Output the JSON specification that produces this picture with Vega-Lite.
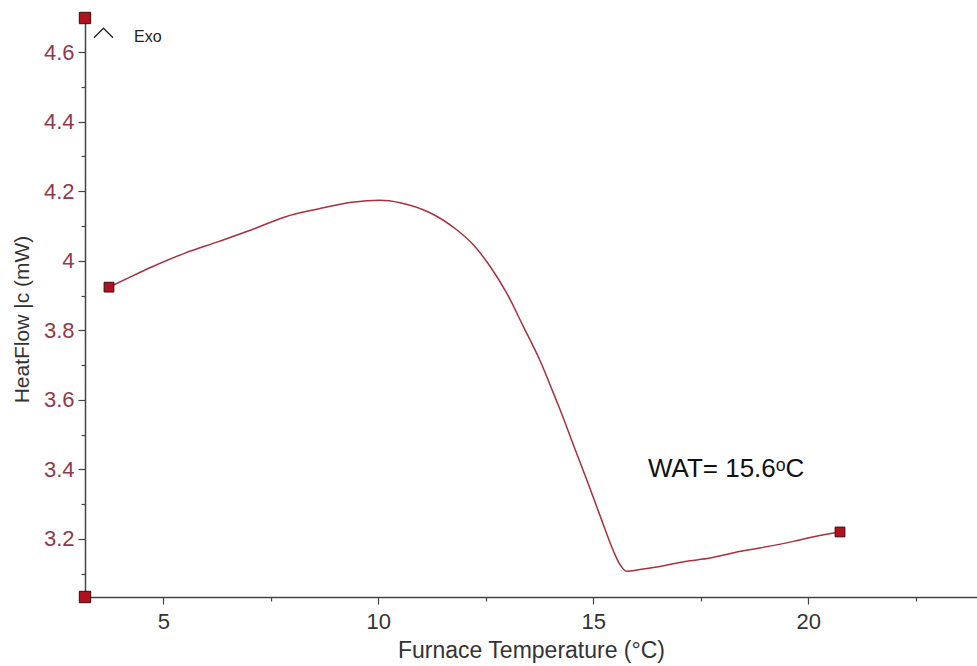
{
  "$schema": "https://vega.github.io/schema/vega-lite/v6.json",
  "width": 892,
  "height": 579,
  "autosize": {"type": "none"},
  "padding": {"left": 85, "top": 18, "right": 0, "bottom": 69},
  "background": "white",
  "config": {
    "view": {"stroke": null},
    "font": "Liberation Sans"
  },
  "resolve": {"axis": {"x": "independent", "y": "independent"}},
  "datasets": {
    "curve": [
      {"t": 3.737, "hf": 3.924}, {"t": 4.226, "hf": 3.953}, {"t": 4.730, "hf": 3.982},
      {"t": 5.505, "hf": 4.022}, {"t": 6.279, "hf": 4.055}, {"t": 7.056, "hf": 4.089},
      {"t": 7.830, "hf": 4.126}, {"t": 8.605, "hf": 4.149}, {"t": 9.381, "hf": 4.168},
      {"t": 10.040, "hf": 4.174}, {"t": 10.505, "hf": 4.167}, {"t": 11.202, "hf": 4.138},
      {"t": 11.823, "hf": 4.089}, {"t": 12.209, "hf": 4.046}, {"t": 12.598, "hf": 3.984},
      {"t": 12.986, "hf": 3.907}, {"t": 13.372, "hf": 3.811}, {"t": 13.760, "hf": 3.713},
      {"t": 14.070, "hf": 3.620}, {"t": 14.226, "hf": 3.572}, {"t": 14.535, "hf": 3.471},
      {"t": 14.847, "hf": 3.370}, {"t": 15.156, "hf": 3.267}, {"t": 15.465, "hf": 3.166},
      {"t": 15.621, "hf": 3.126}, {"t": 15.777, "hf": 3.107}, {"t": 16.086, "hf": 3.112},
      {"t": 16.551, "hf": 3.121}, {"t": 17.133, "hf": 3.135}, {"t": 17.714, "hf": 3.145},
      {"t": 18.295, "hf": 3.161}, {"t": 18.877, "hf": 3.174}, {"t": 19.651, "hf": 3.193},
      {"t": 20.156, "hf": 3.207}, {"t": 20.737, "hf": 3.220}
    ],
    "curveEnds": [
      {"t": 3.737, "hf": 3.924},
      {"t": 20.737, "hf": 3.220}
    ],
    "axisEnds": [
      {"t": 3.179, "hf": 4.698},
      {"t": 3.179, "hf": 3.033}
    ],
    "exoArrow": [{"t": 3.609, "hf": 4.655}],
    "exoLabel": [{"t": 4.319, "hf": 4.644, "label": "Exo"}],
    "watLabel": [{"t": 16.27, "hf": 3.379, "label": "WAT= 15.6ᵒC"}]
  },
  "layer": [
    {
      "data": {"name": "curve"},
      "mark": {"type": "line", "color": "#A8303F", "strokeWidth": 1.5, "interpolate": "monotone"},
      "encoding": {
        "x": {
          "field": "t", "type": "quantitative",
          "scale": {"domain": [3.179, 23.923], "nice": false, "zero": false},
          "axis": {
            "orient": "bottom",
            "title": "Furnace Temperature (°C)",
            "values": [5, 10, 15, 20],
            "grid": false,
            "domainColor": "#444444", "domainWidth": 1.5,
            "tickColor": "#444444", "tickWidth": 1.2, "tickSize": 7,
            "labelColor": "#333333", "labelFont": "Liberation Sans", "labelFontSize": 22,
            "labelPadding": 7, "labelFlush": false, "labelOverlap": false,
            "titleFont": "Liberation Sans", "titleFontSize": 23, "titleFontWeight": "normal",
            "titleColor": "#333333", "titleY": 60, "titleBaseline": "alphabetic"
          }
        },
        "y": {
          "field": "hf", "type": "quantitative",
          "scale": {"domain": [3.033, 4.698], "nice": false, "zero": false},
          "axis": {
            "orient": "left",
            "title": "HeatFlow |c (mW)",
            "values": [3.2, 3.4, 3.6, 3.8, 4.0, 4.2, 4.4, 4.6],
            "labelExpr": "toString(round(datum.value * 10) / 10)",
            "grid": false,
            "domainColor": "#444444", "domainWidth": 1.5,
            "tickColor": "#444444", "tickWidth": 1.2, "tickSize": 7,
            "labelColor": "#8E3B4B", "labelFont": "Liberation Sans", "labelFontSize": 22,
            "labelPadding": 4, "labelFlush": false, "labelOverlap": false,
            "titleFont": "Liberation Sans", "titleFontSize": 21, "titleFontWeight": "normal",
            "titleColor": "#333333", "titleX": -57, "titleY": 301, "titleBaseline": "alphabetic"
          }
        }
      }
    },
    {
      "data": {"name": "curveEnds"},
      "mark": {"type": "point", "shape": "square", "filled": true, "size": 95, "color": "#B0101F", "stroke": "#3A0A0A", "strokeWidth": 1, "opacity": 1},
      "encoding": {
        "x": {
          "field": "t", "type": "quantitative",
          "axis": {
            "orient": "bottom", "title": null, "labels": false, "domain": false, "grid": false,
            "values": [7.5, 12.5, 17.5, 22.5],
            "tickColor": "#444444", "tickWidth": 1.2, "tickSize": 4
          }
        },
        "y": {
          "field": "hf", "type": "quantitative",
          "axis": {
            "orient": "left", "title": null, "labels": false, "domain": false, "grid": false,
            "values": [3.1, 3.3, 3.5, 3.7, 3.9, 4.1, 4.3, 4.5],
            "tickColor": "#444444", "tickWidth": 1.2, "tickSize": 4
          }
        }
      }
    },
    {
      "data": {"name": "axisEnds"},
      "mark": {"type": "point", "shape": "square", "filled": true, "size": 130, "color": "#B0101F", "stroke": "#3A0A0A", "strokeWidth": 1, "opacity": 1, "clip": false},
      "encoding": {
        "x": {"field": "t", "type": "quantitative", "axis": null},
        "y": {"field": "hf", "type": "quantitative", "axis": null}
      }
    },
    {
      "data": {"name": "exoArrow"},
      "mark": {"type": "point", "shape": "M-1,0.5L0,-0.5L1,0.5", "filled": false, "size": 361, "stroke": "#222222", "strokeWidth": 1.2, "opacity": 1},
      "encoding": {
        "x": {"field": "t", "type": "quantitative", "axis": null},
        "y": {"field": "hf", "type": "quantitative", "axis": null}
      }
    },
    {
      "data": {"name": "exoLabel"},
      "mark": {"type": "text", "align": "left", "baseline": "middle", "font": "Liberation Sans", "fontSize": 16, "color": "#222222"},
      "encoding": {
        "x": {"field": "t", "type": "quantitative", "axis": null},
        "y": {"field": "hf", "type": "quantitative", "axis": null},
        "text": {"field": "label"}
      }
    },
    {
      "data": {"name": "watLabel"},
      "mark": {"type": "text", "align": "left", "baseline": "alphabetic", "font": "Liberation Sans", "fontSize": 26, "color": "#111111"},
      "encoding": {
        "x": {"field": "t", "type": "quantitative", "axis": null},
        "y": {"field": "hf", "type": "quantitative", "axis": null},
        "text": {"field": "label"}
      }
    }
  ]
}
